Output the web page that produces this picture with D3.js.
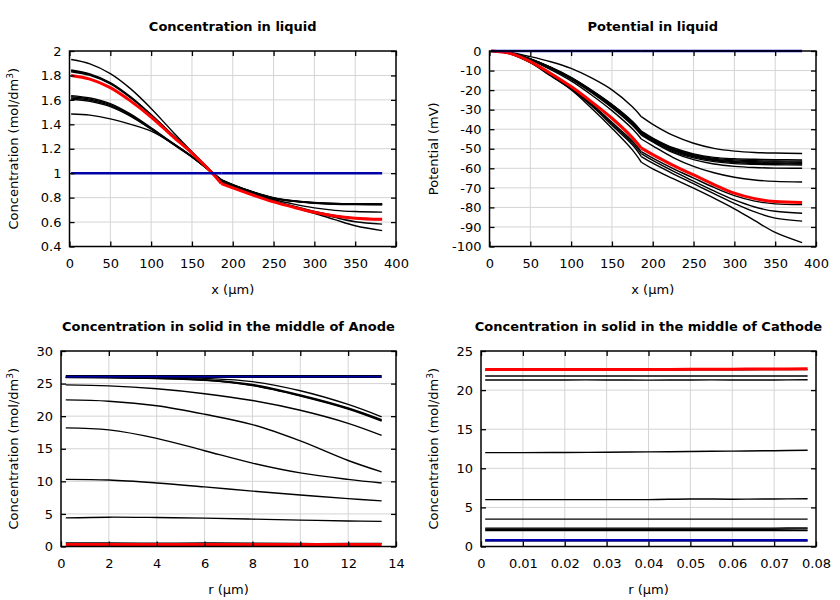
<!DOCTYPE html>
<html><head><meta charset="utf-8">
<script src="https://cdn.jsdelivr.net/npm/d3@7"></script>
<style>body{margin:0;background:#fff}</style>
</head><body><svg id="chart" width="840" height="600"></svg>
<script>
// ---------- Panel 1: concentration in liquid ----------
const liquidX = [2,25,50,75,100,125,150,175,186,200,225,250,275,300,325,350,383];
const concLiquidInitial = [1,1,1,1,1,1,1,1,1,1,1,1,1,1,1,1,1];
const concLiquidFinal = [1.80,1.77,1.70,1.59,1.46,1.31,1.165,1.0,0.915,0.88,0.82,0.765,0.72,0.68,0.65,0.632,0.622];
const concLiquidSnapshots = [
  [1.485,1.475,1.445,1.4,1.345,1.25,1.135,1.0,0.94,0.9,0.842,0.795,0.77,0.757,0.752,0.75,0.749],
  [1.605,1.588,1.545,1.465,1.36,1.245,1.132,1.003,0.943,0.903,0.843,0.794,0.769,0.754,0.746,0.743,0.741],
  [1.615,1.597,1.553,1.471,1.363,1.248,1.134,1.004,0.944,0.904,0.844,0.796,0.771,0.756,0.749,0.746,0.744],
  [1.625,1.606,1.561,1.477,1.367,1.251,1.136,1.005,0.946,0.906,0.846,0.798,0.773,0.758,0.751,0.748,0.746],
  [1.635,1.615,1.569,1.483,1.371,1.254,1.138,1.006,0.947,0.907,0.847,0.8,0.775,0.76,0.753,0.75,0.748],
  [1.83,1.80,1.73,1.615,1.475,1.318,1.168,1.005,0.93,0.894,0.835,0.785,0.747,0.716,0.696,0.686,0.681],
  [1.838,1.807,1.736,1.62,1.478,1.32,1.169,1.005,0.927,0.89,0.83,0.776,0.729,0.688,0.655,0.632,0.62],
  [1.845,1.813,1.742,1.625,1.48,1.322,1.17,1.005,0.925,0.888,0.828,0.772,0.725,0.68,0.638,0.603,0.583],
  [1.93,1.895,1.815,1.69,1.53,1.35,1.175,1.005,0.925,0.885,0.825,0.77,0.72,0.672,0.62,0.57,0.53]
];
const concLiquidXTicks = [0,50,100,150,200,250,300,350,400];
const concLiquidYTicks = [0.4,0.6,0.8,1,1.2,1.4,1.6,1.8,2];

// ---------- Panel 2: potential in liquid ----------
const potentialInitial = [0,0,0,0,0,0,0,0,0,0,0,0,0,0,0,0,0];
const potentialFinal = [0,-1.2,-5.4,-11.5,-18.2,-26,-34.4,-44.3,-49.7,-53,-58.5,-63.4,-68.3,-72.7,-75.5,-77,-77.5];
const potentialSnapshots = [
  [0,-0.8,-2.9,-5.5,-8.9,-13.8,-19.9,-28.5,-33.6,-37.5,-43.2,-47.2,-49.8,-51.2,-51.9,-52.2,-52.4],
  [0,-1,-4,-8.3,-13.5,-20,-27.3,-36,-41,-44.5,-49.5,-52.6,-54.4,-55.1,-55.4,-55.6,-55.7],
  [0,-1,-4.05,-8.4,-13.7,-20.2,-27.5,-36.3,-41.3,-44.8,-49.9,-53,-54.9,-55.7,-56.1,-56.3,-56.3],
  [0,-1,-4.1,-8.5,-13.8,-20.3,-27.7,-36.5,-41.5,-45,-50.2,-53.4,-55.3,-56.2,-56.6,-56.8,-56.9],
  [0,-1.02,-4.15,-8.55,-13.9,-20.45,-27.9,-36.8,-41.8,-45.3,-50.6,-53.8,-55.7,-56.6,-57.1,-57.3,-57.4],
  [0,-1.05,-4.2,-8.6,-14,-20.6,-28.1,-37,-42,-45.6,-50.9,-54.1,-56,-57,-57.5,-57.7,-57.8],
  [0,-1.05,-4.3,-8.8,-14.2,-20.9,-28.5,-37.5,-42.5,-46.1,-51.5,-54.7,-56.6,-57.6,-58,-58.2,-58.3],
  [0,-1.1,-4.4,-9,-14.5,-21.3,-29,-38,-43,-46.5,-52,-55.6,-57.8,-59,-59.6,-59.9,-60],
  [0,-1.1,-4.6,-9.5,-15.3,-22.5,-30.5,-39.8,-45,-48.5,-54.5,-59,-62.3,-64.6,-66,-66.7,-67],
  [0,-1.3,-5.6,-11.9,-18.8,-27,-36.5,-46,-51.5,-54.8,-60.2,-65,-69.8,-74,-76.8,-78.2,-78.6],
  [0,-1.3,-5.7,-12.1,-19.2,-27.5,-37.2,-47,-52.5,-56,-61.5,-66.6,-71.6,-76.2,-79.8,-82,-83],
  [0,-1.3,-5.8,-12.3,-19.5,-28,-38,-48,-54,-57.4,-62.8,-67.9,-73,-77.9,-82.3,-85.5,-87],
  [0,-1.4,-6,-12.8,-19.8,-29.3,-39.5,-50.6,-56.9,-60.3,-65.3,-70.2,-75.3,-80.7,-86.8,-92.8,-98]
];
const potentialYTicks = [-100,-90,-80,-70,-60,-50,-40,-30,-20,-10,0];

// ---------- Panel 3: solid, anode ----------
const anodeR = [0.2,2,4,6,8,10,12,13.4];
const anodeInitial = [26.08,26.08,26.08,26.08,26.08,26.08,26.08,26.08];
const anodeFinal = [0.3,0.3,0.3,0.3,0.3,0.3,0.3,0.3];
const anodeSnapshots = [
  [25.95,25.95,25.95,25.95,25.95,25.95,25.95,25.95],
  [26.2,26.2,26.2,26.2,26.2,26.2,26.2,26.2],
  [26.0,26.0,25.95,25.8,25.3,23.9,21.8,19.9],
  [25.95,25.95,25.85,25.6,24.85,23.25,21.25,19.45],
  [25.95,25.93,25.82,25.55,24.75,23.15,21.15,19.35],
  [25.92,25.9,25.78,25.5,24.7,23.1,21.1,19.25],
  [24.8,24.65,24.2,23.45,22.4,20.9,18.9,17.05],
  [22.5,22.3,21.6,20.3,18.7,16.2,13.2,11.45],
  [18.2,17.9,16.6,14.7,12.8,11.3,10.3,9.75],
  [10.3,10.2,9.75,9.15,8.5,7.9,7.35,7.0],
  [4.4,4.5,4.45,4.35,4.2,4.05,3.92,3.85],
  [0.55,0.55,0.5,0.55,0.5,0.45,0.45,0.45]
];
const anodeXTicks = [0,2,4,6,8,10,12,14];
const anodeYTicks = [0,5,10,15,20,25,30];

// ---------- Panel 4: solid, cathode ----------
const cathodeR = [0.001,0.01,0.02,0.03,0.04,0.05,0.06,0.07,0.078];
const cathodeInitial = [0.8,0.8,0.8,0.8,0.8,0.8,0.8,0.8,0.8];
const cathodeFinal = [22.62,22.62,22.62,22.62,22.64,22.66,22.68,22.7,22.72];
const cathodeSnapshots = [
  [0.72,0.72,0.72,0.72,0.72,0.72,0.72,0.72,0.72],
  [2.05,2.05,2.05,2.05,2.05,2.05,2.05,2.05,2.05],
  [2.2,2.2,2.2,2.2,2.2,2.2,2.2,2.2,2.25],
  [2.35,2.35,2.35,2.35,2.35,2.35,2.35,2.35,2.38],
  [3.5,3.5,3.5,3.5,3.5,3.5,3.5,3.5,3.5],
  [6.0,6.0,6.0,6.0,6.0,6.08,6.05,6.08,6.1],
  [12.0,12.0,12.02,12.05,12.1,12.15,12.2,12.25,12.3],
  [21.3,21.3,21.3,21.3,21.28,21.3,21.3,21.3,21.32],
  [21.8,21.8,21.8,21.8,21.8,21.8,21.8,21.8,21.8],
  [22.55,22.55,22.55,22.55,22.55,22.6,22.6,22.62,22.62]
];
const cathodeXTicks = [0,0.01,0.02,0.03,0.04,0.05,0.06,0.07,0.08];
const cathodeYTicks = [0,5,10,15,20,25];

// ---------- drawing ----------
const svg = d3.select("#chart");
const FONT = "DejaVu Sans, Verdana, sans-serif";
const fmt = d => String(+(+d).toFixed(3));

function panel(cfg) {
  const g = svg.append("g");
  const x = d3.scaleLinear().domain(cfg.xDomain).range([cfg.left, cfg.right]);
  const y = d3.scaleLinear().domain(cfg.yDomain).range([cfg.bottom, cfg.top]);

  // grid
  g.append("g").selectAll("line").data(cfg.xTicks.slice(1, -1)).join("line")
    .attr("x1", d => x(d)).attr("x2", d => x(d)).attr("y1", cfg.top).attr("y2", cfg.bottom)
    .attr("stroke", "#d4d4d4").attr("stroke-width", 1);
  g.append("g").selectAll("line").data(cfg.yTicks.slice(1, -1)).join("line")
    .attr("y1", d => y(d)).attr("y2", d => y(d)).attr("x1", cfg.left).attr("x2", cfg.right)
    .attr("stroke", "#d4d4d4").attr("stroke-width", 1);

  // series
  const line = d3.line().x(d => x(d[0])).y(d => y(d[1])).curve(d3.curveCatmullRom.alpha(0.5));
  const pieces = (xs, ys) => {
    const pts = xs.map((v, i) => [v, ys[i]]);
    if (cfg.breakAt == null) return [pts];
    return [pts.slice(0, cfg.breakAt + 1), pts.slice(cfg.breakAt)];
  };
  const drawSeries = (ys, color, width) => {
    pieces(cfg.xs, ys).forEach(p => {
      g.append("path").attr("d", line(p)).attr("fill", "none")
        .attr("stroke", color).attr("stroke-width", width)
        .attr("stroke-linejoin", "round").attr("stroke-linecap", "butt");
    });
  };
  cfg.snapshots.forEach(s => drawSeries(s, "#000", 1.4));
  drawSeries(cfg.final, "#ff0000", 3);
  drawSeries(cfg.initial, "#0000a8", cfg.blueWidth || 2.5);

  // axes (inward ticks on all four sides)
  const styleAxis = a => {
    a.select(".domain").remove();
    a.selectAll(".tick line").attr("stroke", "#000").attr("stroke-width", 1.3);
    a.selectAll("text").attr("font-family", FONT).attr("font-size", 13).attr("fill", "#000");
  };
  g.append("g").attr("transform", `translate(0,${cfg.bottom})`)
    .call(d3.axisBottom(x).tickValues(cfg.xTicks).tickSize(-5).tickPadding(12).tickFormat(fmt)).call(styleAxis);
  g.append("g").attr("transform", `translate(0,${cfg.top})`)
    .call(d3.axisTop(x).tickValues(cfg.xTicks).tickSize(-5).tickFormat("")).call(styleAxis);
  g.append("g").attr("transform", `translate(${cfg.left},0)`)
    .call(d3.axisLeft(y).tickValues(cfg.yTicks).tickSize(-5).tickPadding(8).tickFormat(fmt)).call(styleAxis);
  g.append("g").attr("transform", `translate(${cfg.right},0)`)
    .call(d3.axisRight(y).tickValues(cfg.yTicks).tickSize(-5).tickFormat("")).call(styleAxis);

  // frame
  g.append("rect").attr("x", cfg.left).attr("y", cfg.top)
    .attr("width", cfg.right - cfg.left).attr("height", cfg.bottom - cfg.top)
    .attr("fill", "none").attr("stroke", "#000").attr("stroke-width", 1.5);

  // title
  g.append("text").attr("x", (cfg.left + cfg.right) / 2).attr("y", cfg.top - 20.5)
    .attr("text-anchor", "middle").attr("font-family", FONT).attr("font-weight", "bold")
    .attr("font-size", 13).text(cfg.title);
  // x label
  g.append("text").attr("x", (cfg.left + cfg.right) / 2).attr("y", cfg.bottom + 47)
    .attr("text-anchor", "middle").attr("font-family", FONT).attr("font-size", 13).text(cfg.xLabel);
  // y label
  const yl = g.append("text")
    .attr("transform", `translate(${cfg.yLabelX},${(cfg.top + cfg.bottom) / 2}) rotate(-90)`)
    .attr("text-anchor", "middle").attr("font-family", FONT).attr("font-size", 13);
  yl.append("tspan").text(cfg.yLabel);
  if (cfg.ySup) {
    yl.append("tspan").attr("font-size", 9).attr("dy", -5).text(cfg.ySup);
    yl.append("tspan").attr("dy", 5).text(")");
  }
}

panel({
  left: 69.5, right: 396, top: 51, bottom: 246.5,
  xDomain: [0, 400], yDomain: [0.4, 2], xTicks: concLiquidXTicks, yTicks: concLiquidYTicks,
  xs: liquidX, initial: concLiquidInitial, final: concLiquidFinal, snapshots: concLiquidSnapshots, breakAt: 8,
  title: "Concentration in liquid", xLabel: "x (µm)", yLabel: "Concentration (mol/dm", ySup: "3", yLabelX: 18
});
panel({
  left: 489.5, right: 816, top: 51, bottom: 246.5,
  xDomain: [0, 400], yDomain: [-100, 0], xTicks: concLiquidXTicks, yTicks: potentialYTicks,
  xs: liquidX, initial: potentialInitial, final: potentialFinal, snapshots: potentialSnapshots, breakAt: 8,
  title: "Potential in liquid", xLabel: "x (µm)", yLabel: "Potential (mV)", yLabelX: 438
});
panel({
  left: 61, right: 396, top: 351, bottom: 546.5,
  xDomain: [0, 14], yDomain: [0, 30], xTicks: anodeXTicks, yTicks: anodeYTicks,
  xs: anodeR, initial: anodeInitial, final: anodeFinal, snapshots: anodeSnapshots, breakAt: null, blueWidth: 1.8,
  title: "Concentration in solid in the middle of Anode", xLabel: "r (µm)", yLabel: "Concentration (mol/dm", ySup: "3", yLabelX: 18
});
panel({
  left: 481, right: 816, top: 351, bottom: 546.5,
  xDomain: [0, 0.08], yDomain: [0, 25], xTicks: cathodeXTicks, yTicks: cathodeYTicks,
  xs: cathodeR, initial: cathodeInitial, final: cathodeFinal, snapshots: cathodeSnapshots, breakAt: null,
  title: "Concentration in solid in the middle of Cathode", xLabel: "r (µm)", yLabel: "Concentration (mol/dm", ySup: "3", yLabelX: 438
});
</script></body></html>
